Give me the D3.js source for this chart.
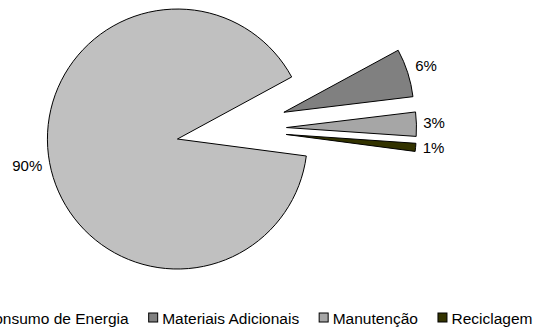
<!DOCTYPE html>
<html>
<head>
<meta charset="utf-8">
<script src="https://cdn.jsdelivr.net/npm/d3@7"></script>
<style>
  html, body { margin: 0; padding: 0; background: #fff; }
  svg { display: block; }
  text { font-family: Arial, "Liberation Sans", sans-serif; fill: #000; }
</style>
</head>
<body>
<svg id="chart" width="539" height="329"></svg>
<script>
// Life-cycle share of each phase
const categories = ["Consumo de Energia", "Materiais Adicionais", "Manutenção", "Reciclagem"];
const values = [90, 6, 3, 1];
const valueLabels = ["90%", "6%", "3%", "1%"];
const colors = ["#C0C0C0", "#808080", "#A6A6A6", "#333300"];

const width = 539, height = 329;
const svg = d3.select("#chart");

const cx = 231.5, cy = 129;     // pie centre
const radius = 130;
const explode = 55;             // every slice is pulled out from the centre
const startDeg = 97.5;          // rotation of the first slice

const pie = d3.pie()
  .sort(null)
  .value(d => d)
  .startAngle(startDeg * Math.PI / 180)
  .endAngle(startDeg * Math.PI / 180 + 2 * Math.PI);

const arc = d3.arc().innerRadius(0).outerRadius(radius);
const arcs = pie(values);

const g = svg.append("g").attr("transform", `translate(${cx},${cy})`);

function dir(a) {
  const mid = (a.startAngle + a.endAngle) / 2;
  return [Math.sin(mid), -Math.cos(mid)];
}

g.selectAll("path.slice")
  .data(arcs)
  .join("path")
  .attr("class", "slice")
  .attr("d", arc)
  .attr("transform", d => {
    const [dx, dy] = dir(d);
    return `translate(${dx * explode},${dy * explode})`;
  })
  .attr("fill", (d, i) => colors[i])
  .attr("stroke", "#000")
  .attr("stroke-width", 1)
  .attr("stroke-linejoin", "miter");

// Percentage labels placed just beyond the outer edge of each slice
const labels = g.selectAll("text.pct")
  .data(arcs)
  .join("text")
  .attr("class", "pct")
  .attr("font-size", 15)
  .attr("text-anchor", "middle")
  .attr("dominant-baseline", "central")
  .text((d, i) => valueLabels[i]);

labels.each(function (d) {
  const [dx, dy] = dir(d);
  const hw = this.getComputedTextLength() / 2;
  const hh = 8;
  const px = dx * (explode + radius), py = dy * (explode + radius);
  const off = 6.5 + hw * Math.abs(dx) + hh * Math.abs(dy);
  d3.select(this).attr("x", px + dx * off).attr("y", py + dy * off - 1.5);
});

// Legend along the bottom, centred horizontally
const legend = svg.append("g").attr("class", "legend");
const box = 9, boxGap = 4.5, itemGap = 20;
const legendCenter = 251, legendBaseline = 324;

const items = legend.selectAll("g.item")
  .data(categories)
  .join("g")
  .attr("class", "item");

items.append("rect")
  .attr("width", box).attr("height", box)
  .attr("y", legendBaseline - 11)
  .attr("fill", (d, i) => colors[i])
  .attr("stroke", "#000")
  .attr("stroke-width", 1);

items.append("text")
  .attr("font-size", 15.5)
  .attr("y", legendBaseline)
  .attr("x", box + boxGap)
  .text(d => d);

const widths = [];
items.each(function () {
  const t = d3.select(this).select("text").node().getComputedTextLength();
  widths.push(box + boxGap + t);
});
const total = d3.sum(widths) + itemGap * (widths.length - 1);
let x = legendCenter - total / 2;
items.each(function (d, i) {
  d3.select(this).attr("transform", `translate(${x},0)`);
  x += widths[i] + itemGap;
});
</script>
</body>
</html>
